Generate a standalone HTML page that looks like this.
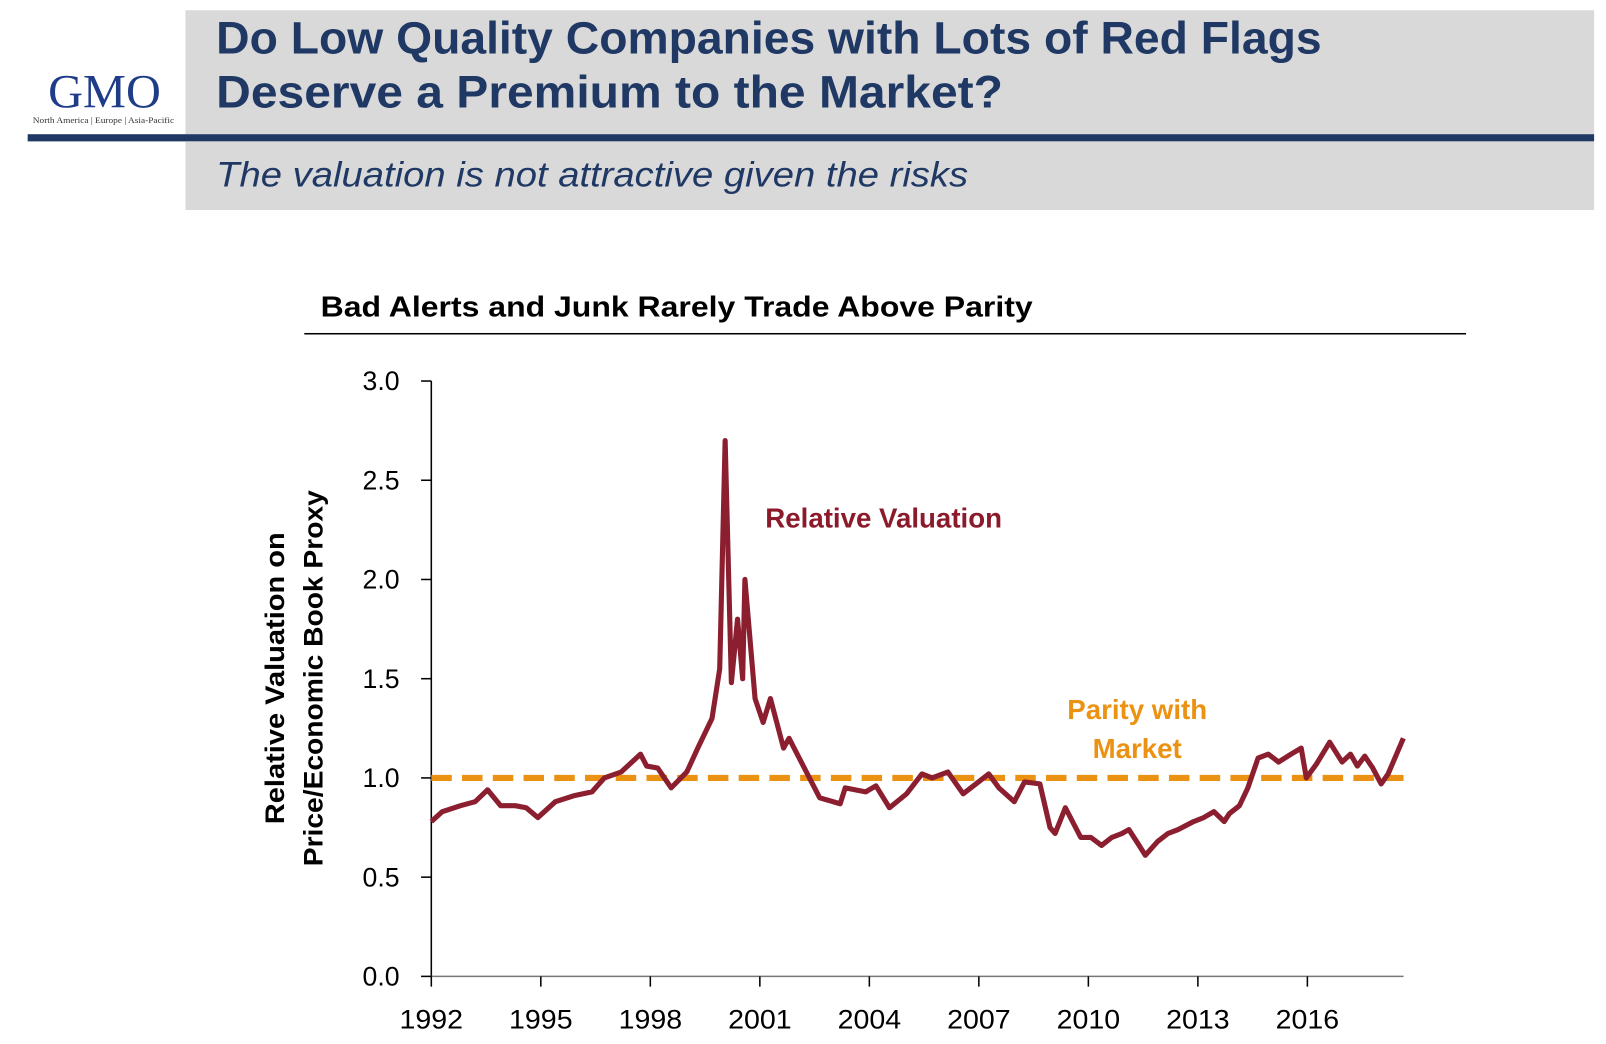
<!DOCTYPE html>
<html><head><meta charset="utf-8"><style>
html,body{margin:0;padding:0;background:#fff}
svg{display:block;font-family:"Liberation Sans",sans-serif}
</style></head><body>
<svg id="chart" width="1606" height="1044" viewBox="0 0 1567.6 1019" preserveAspectRatio="none" xmlns="http://www.w3.org/2000/svg">
  <g>
    <rect x="181" y="10" width="1375" height="121" fill="#d9d9d9"/>
    <rect x="27" y="131" width="1529" height="7" fill="#1f3864"/>
    <rect x="181" y="138" width="1375" height="67" fill="#d9d9d9"/>
    <text x="102" y="105" text-anchor="middle" font-family="Liberation Serif,serif" font-size="46" fill="#1f3c88" textLength="110" lengthAdjust="spacingAndGlyphs">GMO</text>
    <text x="101" y="120" text-anchor="middle" font-family="Liberation Serif,serif" font-size="8" fill="#333" textLength="138" lengthAdjust="spacingAndGlyphs">North America  |  Europe  |  Asia-Pacific</text>
    <text x="211" y="52" font-size="44" font-weight="bold" fill="#1f3864" textLength="1079" lengthAdjust="spacingAndGlyphs">Do Low Quality Companies with Lots of Red Flags</text>
    <text x="211" y="105" font-size="44" font-weight="bold" fill="#1f3864" textLength="768" lengthAdjust="spacingAndGlyphs">Deserve a Premium to the Market?</text>
    <text x="211" y="182" font-size="34" font-style="italic" fill="#1f3864" textLength="734" lengthAdjust="spacingAndGlyphs">The valuation is not attractive given the risks</text>
  </g>
  <text x="313" y="309" font-size="28" font-weight="bold" fill="#000" textLength="695" lengthAdjust="spacingAndGlyphs">Bad Alerts and Junk Rarely Trade Above Parity</text>
  <rect x="297" y="325" width="1134" height="1.5" fill="#000"/>
  <g font-size="26" font-weight="bold" text-anchor="middle">
    <text transform="translate(277,662) rotate(-90)" textLength="285" lengthAdjust="spacingAndGlyphs">Relative Valuation on</text>
    <text transform="translate(315,662) rotate(-90)" textLength="367" lengthAdjust="spacingAndGlyphs">Price/Economic Book Proxy</text>
  </g>
  <g id="axes"></g>
  <g id="marks"></g>
  <text x="747" y="515" font-size="27" font-weight="bold" fill="#8b1a2b">Relative Valuation</text>
  <text x="1110" y="702" text-anchor="middle" font-size="27" font-weight="bold" fill="#ec9212">Parity with</text>
  <text x="1110" y="740" text-anchor="middle" font-size="27" font-weight="bold" fill="#ec9212">Market</text>
</svg>
<script>
const years = [1992.0,1992.3,1992.8,1993.2,1993.54,1993.9,1994.3,1994.6,1994.92,1995.4,1995.9,1996.4,1996.74,1997.2,1997.73,1997.9,1998.2,1998.57,1999.0,1999.3,1999.69,1999.9,2000.05,2000.22,2000.39,2000.53,2000.59,2000.87,2001.09,2001.29,2001.65,2001.8,2002.22,2002.64,2003.2,2003.34,2003.9,2004.18,2004.55,2005.02,2005.44,2005.72,2006.15,2006.57,2006.99,2007.27,2007.55,2007.97,2008.25,2008.67,2008.95,2009.09,2009.37,2009.79,2010.07,2010.36,2010.64,2010.92,2011.11,2011.39,2011.56,2011.9,2012.18,2012.46,2012.88,2013.16,2013.44,2013.72,2013.86,2014.14,2014.37,2014.65,2014.93,2015.21,2015.55,2015.83,2015.97,2016.25,2016.61,2016.95,2017.18,2017.37,2017.57,2017.79,2018.02,2018.21,2018.63];
const values = [0.78,0.83,0.86,0.88,0.94,0.86,0.86,0.85,0.80,0.88,0.91,0.93,1.00,1.03,1.12,1.06,1.05,0.95,1.03,1.15,1.30,1.55,2.70,1.48,1.80,1.50,2.00,1.40,1.28,1.40,1.15,1.20,1.05,0.90,0.87,0.95,0.93,0.96,0.85,0.92,1.02,1.00,1.03,0.92,0.98,1.02,0.95,0.88,0.98,0.97,0.75,0.72,0.85,0.70,0.70,0.66,0.70,0.72,0.74,0.66,0.61,0.68,0.72,0.74,0.78,0.80,0.83,0.78,0.82,0.86,0.95,1.10,1.12,1.08,1.12,1.15,1.00,1.07,1.18,1.08,1.12,1.06,1.11,1.05,0.97,1.02,1.20];
const parity = [1.0];
const yTicks = [0.0,0.5,1.0,1.5,2.0,2.5,3.0];
const yTickLabels = ["0.0","0.5","1.0","1.5","2.0","2.5","3.0"];
const xTicks = [1992,1995,1998,2001,2004,2007,2010,2013,2016];
const xTickLabels = ["1992","1995","1998","2001","2004","2007","2010","2013","2016"];

const X0=421, XPY=35.63, Y0=953, YPU=193.7, XEND=1370;
const xs = y => X0 + (y-1992)*XPY;
const ys = v => Y0 - v*YPU;
const NS="http://www.w3.org/2000/svg";
function mk(tag, attrs, parent){const e=document.createElementNS(NS,tag);for(const k in attrs)e.setAttribute(k,attrs[k]);parent.appendChild(e);return e;}
const axes=document.getElementById('axes'), marks=document.getElementById('marks');
let e;
e=mk('line',{x1:X0,y1:ys(3),x2:X0,y2:Y0,stroke:'#000','stroke-width':1.5},axes);


e=mk('line',{x1:X0,y1:Y0,x2:XEND,y2:Y0,stroke:'#777','stroke-width':1.5},axes);


yTicks.forEach((t,i)=>{
  e=mk('line',{x1:X0-10,y1:ys(t),x2:X0,y2:ys(t),stroke:'#000','stroke-width':1.5},axes);
  
  
  e=mk('text',{x:390,y:ys(t)+9,'text-anchor':'end','font-size':26,fill:'#000'},axes);
  e.textContent=yTickLabels[i];
  
  
});
xTicks.forEach((t,i)=>{
  e=mk('line',{x1:xs(t),y1:Y0,x2:xs(t),y2:Y0+10,stroke:'#000','stroke-width':1.5},axes);
  
  
  e=mk('text',{x:xs(t),y:1004,'text-anchor':'middle','font-size':26,fill:'#000',textLength:62,lengthAdjust:'spacingAndGlyphs'},axes);
  e.textContent=xTickLabels[i];
  
  
});
e=mk('line',{x1:X0,y1:ys(parity[0]),x2:XEND,y2:ys(parity[0]),stroke:'#ec9212','stroke-width':6,'stroke-dasharray':'20 10'},marks);


const d=years.map((y,i)=>(i?'L':'M')+xs(y).toFixed(1)+' '+ys(values[i]).toFixed(1)).join(' ');
e=mk('path',{d:d,fill:'none',stroke:'#8b1f30','stroke-width':5,'stroke-linejoin':'round'},marks);


</script>
</body></html>
